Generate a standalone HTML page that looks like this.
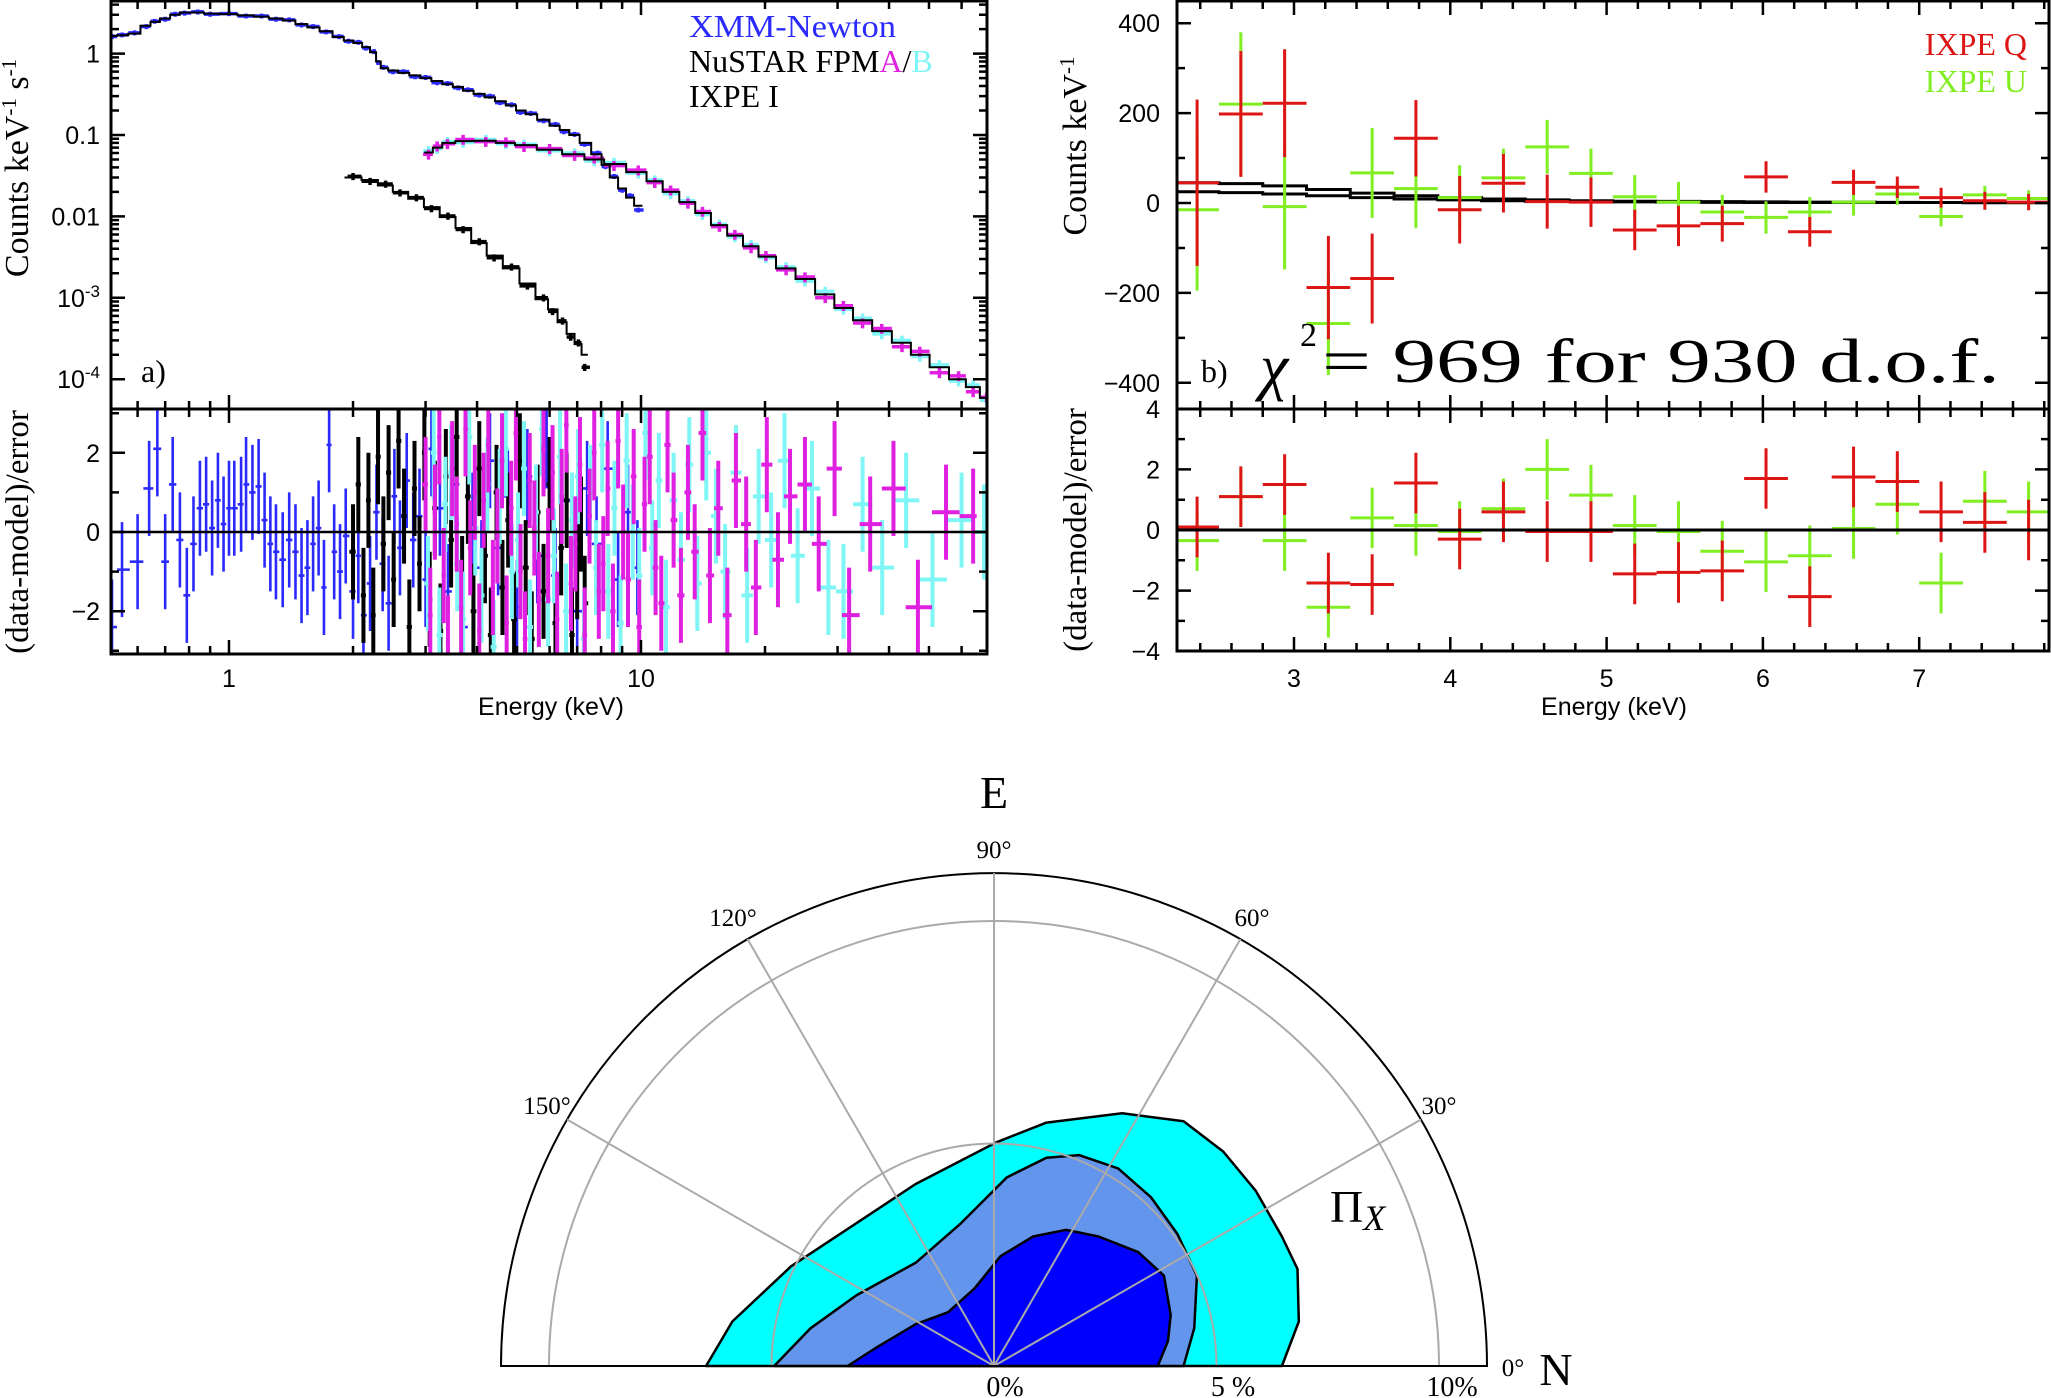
<!DOCTYPE html>
<html><head><meta charset="utf-8">
<style>
html,body{margin:0;padding:0;background:#fff;}
svg{display:block;}
.serif{font-family:"Liberation Serif",serif;}
.sans{font-family:"Liberation Sans",sans-serif;}
</style></head>
<body>
<svg id="fig" xmlns="http://www.w3.org/2000/svg" width="2051" height="1398" viewBox="0 0 2051 1398">
<defs>
<clipPath id="clipAtop"><rect x="111" y="1" width="876" height="408"/></clipPath>
<clipPath id="clipAres"><rect x="111" y="409" width="876" height="245"/></clipPath>
<clipPath id="clipBtop"><rect x="1177" y="1" width="872" height="408"/></clipPath>
<clipPath id="clipBres"><rect x="1177" y="409" width="872" height="242"/></clipPath>
</defs>
<g id="panelA"></g>
<g id="panelB"></g>
<g id="polar"></g>
</svg>
<script>
// ---------- Panel a data ----------
const xmmE=[0.52,0.55,0.59,0.63,0.66,0.7,0.74,0.78,0.84,0.9,1.0,1.1,1.2,1.3,1.4,1.5,1.6,1.72,1.85,1.95,2.06,2.15,2.25,2.3,2.37,2.5,2.65,2.83,3.0,3.2,3.39,3.6,3.8,4.05,4.3,4.55,4.85,5.1,5.4,5.8,6.2,6.5,6.9,7.3,7.85,8.2,8.6,9.0,9.4,9.85];
const xmmModel=[1.65,1.68,1.76,2.2,2.45,2.7,3.0,3.2,3.2,3.1,3.05,2.95,2.85,2.7,2.55,2.3,2.1,1.88,1.6,1.45,1.35,1.2,1.04,0.8,0.66,0.62,0.58,0.54,0.5,0.46,0.42,0.39,0.35,0.32,0.29,0.26,0.23,0.2,0.18,0.154,0.13,0.115,0.1,0.08,0.058,0.043,0.03,0.022,0.017,0.0135];
const xmmData=[1.62,1.7,1.8,2.15,2.5,2.65,3.05,3.15,3.25,3.05,3.1,2.9,2.9,2.65,2.6,2.25,2.15,1.85,1.62,1.42,1.38,1.17,1.06,0.78,0.68,0.6,0.6,0.52,0.51,0.44,0.43,0.38,0.36,0.31,0.3,0.25,0.235,0.19,0.185,0.15,0.135,0.11,0.102,0.077,0.06,0.041,0.031,0.021,0.018,0.012];
const nuE=[3.05,3.2,3.39,3.7,4.2,4.7,5.2,6.0,6.9,7.7,8.6,9.85,10.8,11.8,13,14.1,15.5,16.9,18.5,20.1,22.5,25,28,31,34.5,38.4,43,47.5,53,59,64,69];
const nuModel=[0.061,0.07,0.08,0.084,0.085,0.08,0.075,0.066,0.058,0.05,0.044,0.035,0.027,0.02,0.015,0.011,0.0078,0.0058,0.0043,0.0032,0.0023,0.0017,0.0011,0.00075,0.00053,0.00039,0.00028,0.0002,0.00014,0.0001,0.00008,0.000059];
const naData=[0.058,0.073,0.078,0.088,0.083,0.082,0.072,0.068,0.056,0.052,0.042,0.037,0.026,0.021,0.0145,0.0115,0.0075,0.006,0.0041,0.0033,0.0022,0.0018,0.001,0.0008,0.00049,0.00042,0.00025,0.00022,0.00012,0.00011,0.00007,0.00006];
const nbData=[0.064,0.068,0.083,0.081,0.088,0.078,0.077,0.064,0.06,0.048,0.046,0.034,0.028,0.019,0.0155,0.0105,0.008,0.0056,0.0045,0.0031,0.0024,0.0016,0.0012,0.00072,0.00056,0.00036,0.0003,0.00019,0.00015,0.000095,0.000085,0.000055];
const ixE=[2.0,2.2,2.4,2.6,2.85,3.1,3.4,3.7,4.05,4.4,4.85,5.3,5.8,6.1,6.45,6.75,7.05,7.3];
const ixModel=[0.03,0.028,0.024,0.02,0.0165,0.013,0.0098,0.0072,0.0047,0.0033,0.0023,0.0015,0.00096,0.00072,0.0005,0.00036,0.00027,0.0002];
const ixData=[0.031,0.027,0.025,0.0195,0.017,0.0125,0.0101,0.0069,0.0049,0.0031,0.0024,0.0014,0.001,0.00068,0.00052,0.00033,0.00028,0.00014];
// residuals
const xmmRE=[0.52,0.55,0.6,0.64,0.67,0.7,0.73,0.76,0.79,0.82,0.85,0.88,0.91,0.94,0.97,1.0,1.03,1.07,1.1,1.14,1.18,1.22,1.26,1.3,1.35,1.4,1.45,1.5,1.55,1.6,1.65,1.7,1.75,1.8,1.86,1.92,2.0,2.06,2.12,2.2,2.28,2.36,2.44,2.52,2.6,2.7,2.8,2.9,3.0,3.1,3.25,3.4,3.55,3.7,3.9,4.1,4.3,4.5,4.75,5.0,5.3,5.6,5.9,6.2,6.6,7.0,7.4,7.8,8.3,8.8,9.3,9.8];
const xmmR=[-2.4,-0.95,-0.75,1.1,2.1,-0.75,1.2,-0.2,-1.6,-0.3,0.6,0.7,0.1,0.8,0.2,0.6,0.6,0.7,1.2,1.0,1.15,0.3,-0.3,-0.5,-0.7,-0.2,-0.5,-1.1,-0.9,-0.3,0.1,-1.4,2.2,-0.5,-1.0,-0.1,-1.5,-0.6,-2.1,-1.3,0.5,-0.8,-1.8,0.9,-0.4,1.3,-0.2,0.4,-1.2,2.1,0.6,-1.5,1.2,-2.4,0.3,-0.9,1.8,-0.4,0.9,-1.9,1.4,-0.6,2.3,-1.1,0.8,-2.0,1.1,-0.3,1.6,-1.2,0.5,-0.9];
const ixRE=[2.0,2.06,2.12,2.18,2.24,2.3,2.37,2.44,2.51,2.58,2.66,2.74,2.82,2.9,2.98,3.07,3.16,3.26,3.36,3.46,3.57,3.68,3.8,3.92,4.05,4.18,4.32,4.46,4.61,4.76,4.92,5.08,5.25,5.43,5.61,5.8,6.0,6.2,6.4,6.6,6.8,7.0,7.15,7.3];
const ixR=[-0.5,1.2,-1.6,0.8,-2.1,1.9,-0.3,1.5,-1.2,2.3,0.4,-2.4,1.1,-0.8,2.0,-1.7,0.6,-2.5,1.4,-0.2,2.4,-1.3,0.9,-2.0,1.6,-0.6,-2.6,1.0,-1.4,0.3,-2.2,1.8,-0.9,-2.7,0.5,-1.5,1.2,-2.3,-0.4,0.8,-2.6,-1.0,0.2,-1.8];
const naRE=[3.0,3.08,3.16,3.24,3.32,3.4,3.48,3.57,3.66,3.75,3.85,3.95,4.05,4.15,4.26,4.37,4.48,4.6,4.72,4.84,4.97,5.1,5.23,5.37,5.51,5.65,5.8,5.95,6.1,6.26,6.42,6.59,6.76,6.93,7.11,7.3,7.5,7.7,7.9,8.1,8.3,8.55,8.8,9.05,9.3,9.6,9.9,10.2,10.5,10.85,11.2,11.6,12.0,12.5,13.0,13.5,14.1,14.7,15.4,16.2,17.0,18.0,19.0,20.2,21.5,23,25,27,29.5,32,36,41,47,55,64];
const naR=[1.2,-2.1,0.5,2.4,-1.1,-2.8,1.6,0.2,-1.9,2.6,-0.4,1.0,-2.5,0.8,2.2,-1.4,-0.1,1.8,-2.3,0.6,2.5,-1.0,-2.7,1.3,0.1,-1.7,2.1,-0.6,1.5,-2.2,0.9,2.7,-1.3,-0.3,1.7,-2.6,0.4,2.0,-1.5,-0.8,1.1,-2.0,2.3,0.0,-1.2,1.4,-2.4,0.7,1.9,-0.9,-1.8,2.2,0.3,-1.6,1.0,-0.5,2.5,-1.1,0.6,-2.1,1.3,0.2,-1.4,1.7,-0.7,0.9,1.2,-0.3,1.6,-2.1,0.2,1.1,-1.9,0.5,0.4];
const nbRE=[3.04,3.14,3.24,3.35,3.46,3.58,3.7,3.83,3.96,4.1,4.24,4.39,4.54,4.7,4.86,5.03,5.2,5.38,5.56,5.75,5.95,6.15,6.36,6.58,6.8,7.03,7.27,7.52,7.78,8.05,8.33,8.62,8.92,9.23,9.55,9.9,10.25,10.65,11.05,11.5,12.0,12.5,13.1,13.7,14.4,15.2,16.0,17.0,18.1,19.3,20.7,22.3,24,26,28.5,31,34.5,38.5,44,51,60,68];
const nbR=[-1.3,2.0,-2.6,0.7,1.5,-0.8,-2.2,2.4,0.1,-1.6,1.2,-2.9,0.9,2.1,-1.0,-0.2,1.6,-2.4,0.5,2.6,-1.7,-0.6,1.9,-2.0,0.3,1.4,-2.7,1.0,-0.9,2.2,-1.5,0.6,-2.3,1.8,0.0,-1.1,2.5,-0.4,1.3,-1.9,0.8,-0.7,1.7,-1.3,2.0,0.4,-1.0,1.5,-1.6,0.9,-0.2,1.8,-0.6,1.1,-1.4,-1.5,0.7,-0.9,0.8,-1.2,0.3,0.0];
// ---------- Panel b data ----------
const bE=[2.38,2.66,2.94,3.22,3.50,3.78,4.06,4.34,4.62,4.90,5.18,5.46,5.74,6.02,6.30,6.58,6.86,7.14,7.42,7.70];
const qVal=[45,198,222,-188,-168,144,-15,44,3,2,-60,-51,-46,58,-64,46,35,12,5,2];
const qErr=[185,140,120,115,100,85,75,65,60,55,45,45,40,35,33,28,24,22,20,18];
const uVal=[-15,220,-8,-268,67,32,12,56,125,66,14,2,-20,-32,-20,2,20,-30,18,10];
const uErr=[180,160,140,115,100,88,72,65,60,55,48,45,38,36,33,30,24,22,20,18];
const qModel=[45,43,38,30,22,16,12,9,7,5,4,3.5,3,2.5,2,2,1.5,1.2,1,1];
const uModel=[25,23,20,16,12,9,7,5,4,3,2.5,2,1.5,1.2,1,1,1,1,0.5,0.5];
const qRes=[0.1,1.1,1.5,-1.75,-1.8,1.55,-0.3,0.6,-0.05,-0.05,-1.45,-1.4,-1.35,1.7,-2.2,1.75,1.6,0.6,0.25,0.0];
const uRes=[-0.35,1.1,-0.35,-2.55,0.4,0.15,-0.05,0.7,2.0,1.15,0.15,-0.05,-0.7,-1.05,-0.85,0.05,0.85,-1.75,0.95,0.6];
// ---------- Polar contour data (x%, y%) ----------
const c99x=[-6.47,-5.88,-4.56,-1.76,0.06,1.18,2.88,4.26,5.15,5.88,6.47,6.82,6.85,6.47];
const c99y=[0,1.0,2.24,4.09,5.03,5.47,5.68,5.5,4.82,3.94,2.91,2.18,1.0,0];
const c90x=[-4.94,-4.12,-3.09,-1.76,-0.74,0.29,1.18,1.91,2.79,3.53,4.12,4.56,4.5,4.26];
const c90y=[0,0.85,1.59,2.32,3.21,4.24,4.68,4.74,4.44,3.79,2.97,2.03,0.85,0];
const c68x=[-3.29,-2.65,-1.76,-1.03,-0.44,0.15,0.88,1.62,2.35,3.24,3.82,3.97,3.91,3.68];
const c68y=[0,0.41,0.94,1.21,1.74,2.47,2.91,3.06,2.91,2.56,2.03,1.15,0.56,0];
const polarAngles=[30,60,90,120,150];
const polarRings=[5,10];

const NS='http://www.w3.org/2000/svg';
function mk(tag,attrs,parent){const e=document.createElementNS(NS,tag);for(const k in attrs)e.setAttribute(k,attrs[k]);parent.appendChild(e);return e;}
function txt(str,attrs,parent){const e=mk('text',attrs,parent);e.textContent=str;return e;}

// ===== Panel A =====
const A=document.getElementById('panelA');
const xa=E=>229+412*Math.log10(E);
const ya=v=>53.6-81.4*Math.log10(v);
const ra=r=>532-39.6*r;
const gAt=mk('g',{'clip-path':'url(#clipAtop)'},A);
const gAr=mk('g',{'clip-path':'url(#clipAres)'},A);
function stepPts(E,V,fx,fy){let p=[];for(let i=0;i<E.length;i++){const l=i>0?Math.sqrt(E[i-1]*E[i]):E[i]/Math.sqrt(E[1]/E[0]);const r=i<E.length-1?Math.sqrt(E[i]*E[i+1]):E[i]*Math.sqrt(E[i]/E[i-1]);p.push(fx(l)+','+fy(V[i]),fx(r)+','+fy(V[i]));}return p.join(' ');}
function specPts(E,D,col,g,name,fr,w){for(let i=0;i<E.length;i++){const l=i>0?Math.sqrt(E[i-1]*E[i]):E[i]*0.97;const r=i<E.length-1?Math.sqrt(E[i]*E[i+1]):E[i]*1.03;const e=mk('path',{d:`M${xa(l)},${ya(D[i])}H${xa(r)}M${xa(E[i])},${ya(D[i]*(1-fr))}V${ya(D[i]*(1+fr))}`,stroke:col,'stroke-width':w,fill:'none'},g);

}}
function resPts(E,R,col,g,name,w){for(let i=0;i<E.length;i++){const l=i>0?Math.sqrt(E[i-1]*E[i]):E[i]*0.98;const r=i<E.length-1?Math.sqrt(E[i]*E[i+1]):E[i]*1.02;const e=mk('path',{d:`M${xa(l)},${ra(R[i])}H${xa(r)}M${xa(E[i])},${ra(R[i]-1.2)}V${ra(R[i]+1.2)}`,stroke:col,'stroke-width':w,fill:'none'},g);

}}
specPts(xmmE,xmmData,'#2a2aff',gAt,'xmm-data-point',0.07,3.5);
specPts(nuE,nbData,'#7ff5f5',gAt,'nustar-b-data-point',0.14,3.5);
specPts(nuE,naData,'#e020e0',gAt,'nustar-a-data-point',0.14,3.5);
specPts(ixE,ixData,'#000',gAt,'ixpe-i-data-point',0.1,3.5);
let m1=mk('polyline',{points:stepPts(xmmE,xmmModel,xa,ya),fill:'none',stroke:'#000','stroke-width':2},gAt);


let m2=mk('polyline',{points:stepPts(nuE,nuModel,xa,ya),fill:'none',stroke:'#000','stroke-width':2},gAt);


let m3=mk('polyline',{points:stepPts(ixE,ixModel,xa,ya),fill:'none',stroke:'#000','stroke-width':2},gAt);


resPts(xmmRE,xmmR,'#2a2aff',gAr,'xmm-residual',2.6);
resPts(ixRE,ixR,'#000',gAr,'ixpe-i-residual',4);
resPts(nbRE,nbR,'#7ff5f5',gAr,'nustar-b-residual',4);
resPts(naRE,naR,'#e020e0',gAr,'nustar-a-residual',4);
let z0=mk('line',{x1:111,x2:987,y1:ra(0),y2:ra(0),stroke:'#000','stroke-width':2.5},A);


let fa=mk('path',{d:'M111,1H987V654H111ZM111,409H987',fill:'none',stroke:'#000','stroke-width':3},A);


let tk='';
const xMajA=[1,10],xMinA=[0.6,0.7,0.8,0.9,2,3,4,5,6,7,8,9,20,30,40,50,60];
for(const E of xMajA){const x=xa(E);tk+=`M${x},1v14M${x},409v-14M${x},409v14M${x},654v-14`;}
for(const E of xMinA){const x=xa(E);tk+=`M${x},1v8M${x},409v-8M${x},409v8M${x},654v-8`;}
for(let d=-4;d<=0;d++){for(let k=1;k<10;k++){const y=ya(k*Math.pow(10,d));if(y<2||y>408)continue;const L=k==1?14:8;tk+=`M111,${y}h${L}M987,${y}h-${L}`;}}
for(let r=-3;r<=3;r++){const y=ra(r);if(y<410||y>653)continue;const L=r%2==0?14:8;tk+=`M111,${y}h${L}M987,${y}h-${L}`;}
let ta=mk('path',{d:tk,stroke:'#000','stroke-width':2.5,fill:'none'},A);


const yLabA=[[1,'1',''],[0.1,'0.1',''],[0.01,'0.01',''],[0.001,'10','-3'],[0.0001,'10','-4']];
for(const [v,t,s] of yLabA){const e=txt('',{x:100,y:ya(v)+9,'text-anchor':'end','font-size':25,class:'sans'},A);e.textContent=t;if(s){const sp=mk('tspan',{dy:-10,'font-size':17},e);sp.textContent=s;}

}
const rLabA=[2,0,-2];
for(const r of rLabA){const e=txt(String(r).replace('-','−'),{x:100,y:ra(r)+9,'text-anchor':'end','font-size':25,class:'sans'},A);

}
for(const E of xMajA){const e=txt(String(E),{x:xa(E),y:687,'text-anchor':'middle','font-size':25,class:'sans'},A);

}
</script>
<script>
(function(){
const A=document.getElementById('panelA');
function t(s,a,n){const e=document.createElementNS('http://www.w3.org/2000/svg','text');for(const k in a)e.setAttribute(k,a[k]);e.innerHTML=s;A.appendChild(e);

return e;}
t('Counts keV<tspan dy="-12" font-size="21">-1</tspan><tspan dy="12"> s</tspan><tspan dy="-12" font-size="21">-1</tspan>',{transform:'translate(28,168) rotate(-90)','text-anchor':'middle','font-size':34,class:'serif'},'y-axis-title-a');
t('(data-model)/error',{transform:'translate(28,532) rotate(-90)','text-anchor':'middle','font-size':33,class:'serif'},'residual-axis-title-a');
t('Energy (keV)',{x:551,y:715,'text-anchor':'middle','font-size':25,class:'sans'},'x-axis-title-a');
t('XMM-Newton',{x:689,y:37,'font-size':32,class:'serif',fill:'#2a2aff',textLength:207,lengthAdjust:'spacingAndGlyphs'},'legend-xmm');
t('NuSTAR FPM<tspan fill="#e020e0">A</tspan>/<tspan fill="#7ff5f5">B</tspan>',{x:689,y:72,'font-size':32,class:'serif'},'legend-nustar');
t('IXPE I',{x:689,y:107,'font-size':32,class:'serif'},'legend-ixpe-i');
t('a)',{x:141,y:382,'font-size':32,class:'serif'},'panel-a-label');
})();
</script>
<script>
// ===== Panel B =====
const B=document.getElementById('panelB');
const xb=E=>1294+(E-3)*156.3;
const yb=v=>203-v*0.4495;
const rb=r=>530-r*30.3;
const gBt=mk('g',{'clip-path':'url(#clipBtop)'},B);
const gBr=mk('g',{'clip-path':'url(#clipBres)'},B);
const hw=0.14;
function bStep(V,fy){let p=[];for(let i=0;i<bE.length;i++){p.push(xb(bE[i]-hw)+','+fy(V[i]),xb(bE[i]+hw)+','+fy(V[i]));}return p.join(' ');}
let bm1=mk('polyline',{points:bStep(qModel,yb),fill:'none',stroke:'#000','stroke-width':3},gBt);


let bm2=mk('polyline',{points:bStep(uModel,yb),fill:'none',stroke:'#000','stroke-width':3},gBt);


for(let i=0;i<bE.length;i++){
 const u=mk('path',{d:`M${xb(bE[i]-hw)},${yb(uVal[i])}H${xb(bE[i]+hw)}M${xb(bE[i])},${yb(uVal[i]-uErr[i])}V${yb(uVal[i]+uErr[i])}`,stroke:'#80ee20','stroke-width':3,fill:'none'},gBt);
 
 
 const q=mk('path',{d:`M${xb(bE[i]-hw)},${yb(qVal[i])}H${xb(bE[i]+hw)}M${xb(bE[i])},${yb(qVal[i]-qErr[i])}V${yb(qVal[i]+qErr[i])}`,stroke:'#dd1515','stroke-width':3,fill:'none'},gBt);
 
 
 const ur=mk('path',{d:`M${xb(bE[i]-hw)},${rb(uRes[i])}H${xb(bE[i]+hw)}M${xb(bE[i])},${rb(uRes[i]-1)}V${rb(uRes[i]+1)}`,stroke:'#80ee20','stroke-width':3,fill:'none'},gBr);
 
 
 const qr=mk('path',{d:`M${xb(bE[i]-hw)},${rb(qRes[i])}H${xb(bE[i]+hw)}M${xb(bE[i])},${rb(qRes[i]-1)}V${rb(qRes[i]+1)}`,stroke:'#dd1515','stroke-width':3,fill:'none'},gBr);
 
 
}
let zb=mk('line',{x1:1177,x2:2049,y1:rb(0),y2:rb(0),stroke:'#000','stroke-width':3},B);


let fb=mk('path',{d:'M1177,1H2049V651H1177ZM1177,409H2049',fill:'none',stroke:'#000','stroke-width':3},B);


let tb='';
for(let k=12;k<=39;k++){const E=k/5;const x=xb(E);if(x<1178||x>2048)continue;const L=k%5==0?14:8;tb+=`M${x},1v${L}M${x},409v-${L}M${x},409v${L}M${x},651v-${L}`;}
for(let v=-400;v<=400;v+=100){const y=yb(v);if(y<2||y>408)continue;const L=v%200==0?14:8;tb+=`M1177,${y}h${L}M2049,${y}h-${L}`;}
for(let r=-4;r<=4;r++){const y=rb(r);const L=r%2==0?14:8;tb+=`M1177,${y}h${L}M2049,${y}h-${L}`;}
let tbe=mk('path',{d:tb,stroke:'#000','stroke-width':2.5,fill:'none'},B);


const yLabB=[400,200,0,-200,-400];
for(const v of yLabB){const e=txt(String(v).replace('-','−'),{x:1160,y:yb(v)+9,'text-anchor':'end','font-size':25,class:'sans'},B);

}
const rLabB=[4,2,0,-2,-4];
for(const v of rLabB){const e=txt(String(v).replace('-','−'),{x:1160,y:rb(v)+9,'text-anchor':'end','font-size':25,class:'sans'},B);

}
const xLabB=[3,4,5,6,7];
for(const v of xLabB){const e=txt(String(v),{x:xb(v),y:687,'text-anchor':'middle','font-size':25,class:'sans'},B);

}
(function(){
function t(s,a,n){const e=document.createElementNS(NS,'text');for(const k in a)e.setAttribute(k,a[k]);e.innerHTML=s;B.appendChild(e);

}
t('Counts keV<tspan dy="-12" font-size="21">-1</tspan>',{transform:'translate(1086,146) rotate(-90)','text-anchor':'middle','font-size':34,class:'serif'},'y-axis-title-b');
t('(data-model)/error',{transform:'translate(1086,530) rotate(-90)','text-anchor':'middle','font-size':33,class:'serif'},'residual-axis-title-b');
t('Energy (keV)',{x:1614,y:715,'text-anchor':'middle','font-size':25,class:'sans'},'x-axis-title-b');
t('IXPE Q',{x:2027,y:55,'text-anchor':'end','font-size':32,class:'serif',fill:'#dd1515'},'legend-ixpe-q');
t('IXPE U',{x:2027,y:92,'text-anchor':'end','font-size':32,class:'serif',fill:'#80ee20'},'legend-ixpe-u');
t('b)',{x:1201,y:382,'font-size':32,class:'serif'},'panel-b-label');
t('χ',{x:1260,y:388,'font-size':64,'font-style':'italic',class:'serif'},'chi-symbol');
t('2',{x:1300,y:346,'font-size':34,class:'serif'},'chi-square-exponent');
t('= 969 for 930 d.o.f.',{x:0,y:0,transform:'translate(1322,382) scale(1.4,1)','font-size':62,class:'serif'},'chi-square-annotation');
})();
</script>
<script>
// ===== Polar =====
const P=document.getElementById('polar');
const cx=994,cy=1366,pr=44.5,Rout=493;
const px=v=>cx+v*pr, py=v=>cy-v*pr;
let arc=mk('path',{d:`M${cx-Rout},${cy}A${Rout},${Rout} 0 0 1 ${cx+Rout},${cy}Z`,fill:'#fff',stroke:'#000','stroke-width':2},P);


function contour(X,Y,col,name){let d='M'+X.map((x,i)=>px(x)+','+py(Y[i])).join('L');const e=mk('path',{d:d+'Z',fill:col,stroke:'#000','stroke-width':2.5,'stroke-linejoin':'round'},P);

}
contour(c99x,c99y,'#00ffff','contour-99-percent');
contour(c90x,c90y,'#6495ed','contour-90-percent');
contour(c68x,c68y,'#0000ff','contour-68-percent');
for(const r of polarRings){const R=r*pr;const e=mk('path',{d:`M${cx-R},${cy}A${R},${R} 0 0 1 ${cx+R},${cy}`,fill:'none',stroke:'#aaa','stroke-width':2},P);

}
for(const a of polarAngles){const t=a*Math.PI/180;const e=mk('line',{x1:cx,y1:cy,x2:cx+Rout*Math.cos(t),y2:cy-Rout*Math.sin(t),stroke:'#aaa','stroke-width':2},P);

}
let base=mk('line',{x1:cx-Rout,y1:cy,x2:cx+Rout,y2:cy,stroke:'#000','stroke-width':2},P);


const angLab=[[90,994,858],[120,733,926],[60,1252,926],[150,547,1114],[30,1439,1114]];
for(const [a,x,y] of angLab){const e=txt(a+'°',{x:x,y:y,'text-anchor':'middle','font-size':25,class:'serif'},P);

}
const pctLab=[['0%',1005],['5 %',1233],['10%',1452]];
for(const [s,x] of pctLab){const e=txt(s,{x:x,y:1396,'text-anchor':'middle','font-size':28,class:'serif'},P);

}
let l0=txt('0°',{x:1513,y:1376,'text-anchor':'middle','font-size':25,class:'serif'},P);


let lN=txt('N',{x:1556,y:1385,'text-anchor':'middle','font-size':46,class:'serif'},P);


let lE=txt('E',{x:994,y:808,'text-anchor':'middle','font-size':46,class:'serif'},P);


let pi=txt('Π',{x:1330,y:1222,'font-size':46,class:'serif'},P);
const sub=mk('tspan',{'font-style':'italic','font-size':36,dy:8},pi);sub.textContent='X';


</script>
</body></html>
